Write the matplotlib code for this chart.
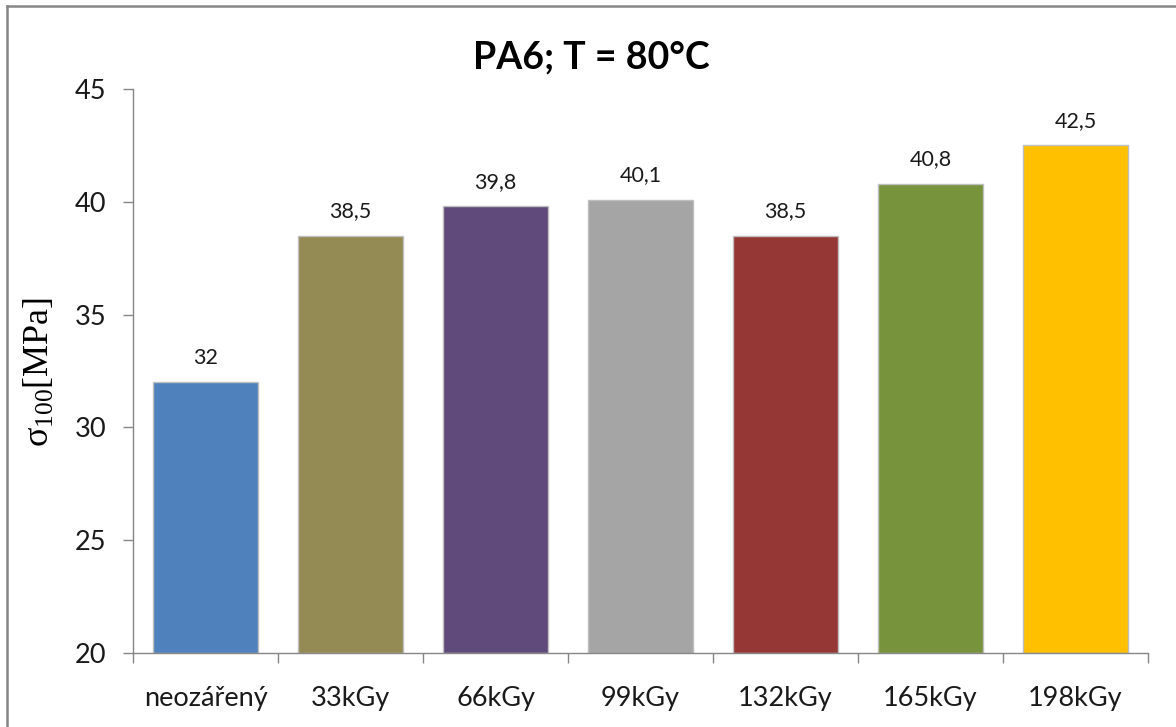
import matplotlib
matplotlib.use("Agg")
import matplotlib.pyplot as plt
from matplotlib.lines import Line2D
import numpy as np

categories = ["neozářený", "33kGy", "66kGy", "99kGy", "132kGy", "165kGy", "198kGy"]
values = [32, 38.5, 39.8, 40.1, 38.5, 40.8, 42.5]
colors = ["#4F81BD", "#948A54", "#604A7B", "#A5A5A5", "#953735", "#77933C", "#FFC000"]
yticks = [20, 25, 30, 35, 40, 45]

plt.rcParams["font.family"] = ["Lato", "DejaVu Sans"]
plt.rcParams["mathtext.fontset"] = "custom"
plt.rcParams["mathtext.rm"] = "Liberation Serif"
plt.rcParams["mathtext.it"] = "Liberation Serif"

W, H = 1176, 727
fig = plt.figure(figsize=(W / 100, H / 100), dpi=100)
ax = fig.add_axes([133 / W, 1 - 653 / H, (1148 - 133) / W, (653 - 89) / H])

x = np.arange(len(categories))
ax.bar(x, [v - 20 for v in values], bottom=20, width=0.72, color=colors,
       edgecolor="#BFBFBF", linewidth=1.0, zorder=2)

for xi, v in zip(x, values):
    ax.text(xi, v + 0.65, f"{v:g}".replace(".", ","), ha="center", va="bottom",
            fontsize=15.5, color="#1a1a1a")

ax.set_xlim(-0.5, len(categories) - 0.5)
ax.set_ylim(20, 45)
ax.set_yticks(yticks)
ax.set_xticks(x)
ax.set_xticklabels(categories)
ax.set_xticks(np.arange(len(categories) + 1) - 0.5, minor=True)

gray = "#868686"
for s in ["top", "right"]:
    ax.spines[s].set_visible(False)
for s in ["left", "bottom"]:
    ax.spines[s].set_color(gray)
    ax.spines[s].set_linewidth(1.0)

ax.tick_params(axis="y", direction="out", length=7, width=1, color=gray,
               labelsize=19.5, pad=12, labelcolor="#1a1a1a")
ax.tick_params(axis="x", which="major", length=0, labelsize=19.5, pad=24,
               labelcolor="#1a1a1a")
ax.tick_params(axis="x", which="minor", direction="out", length=7, width=1, color=gray)

fig.text(40 / W, 1 - 372 / H, r"$\mathrm{\sigma}_{\mathrm{100}}$[MPa]", rotation=90,
         ha="center", va="center", fontsize=26, family="Liberation Serif")

fig.text(591 / W, 1 - 57 / H, "PA6; T = 80°C", ha="center", va="center",
         fontsize=27, fontweight="bold", color="#000000")

# outer frame (left and top edges)
fig.add_artist(Line2D([7 / W, 7 / W], [0, 1 - 6 / H], transform=fig.transFigure,
                      color=gray, linewidth=1.8))
fig.add_artist(Line2D([7 / W, 1], [1 - 6 / H, 1 - 6 / H], transform=fig.transFigure,
                      color=gray, linewidth=1.8))

fig.savefig("out.png", dpi=100)
